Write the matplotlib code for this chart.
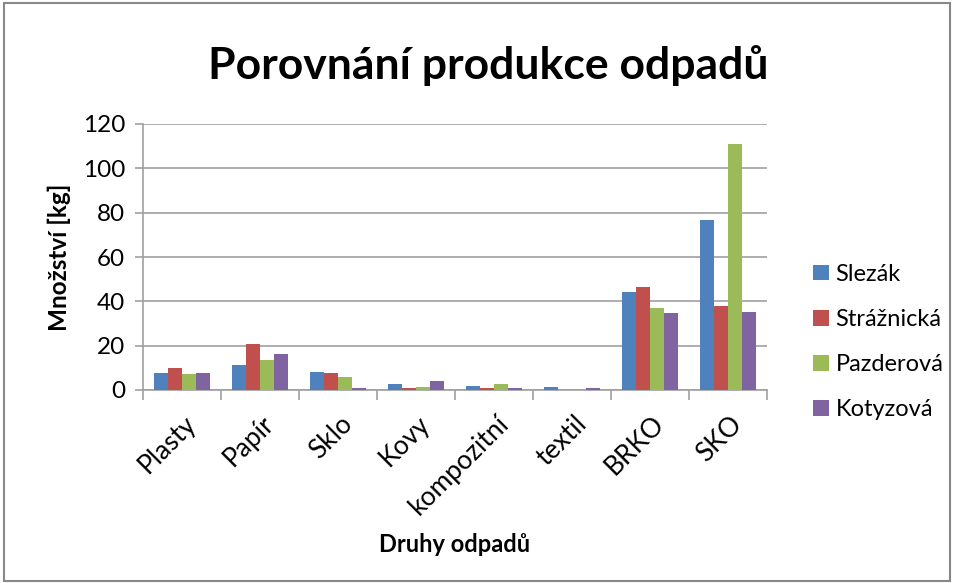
import matplotlib
matplotlib.use("Agg")
import matplotlib.pyplot as plt
import numpy as np
from matplotlib.patches import Rectangle

plt.rcParams['font.family'] = ['Lato', 'DejaVu Sans']

categories = ["Plasty", "Papír", "Sklo", "Kovy", "kompozitní", "textil", "BRKO", "SKO"]
series_names = ["Slezák", "Strážnická", "Pazderová", "Kotyzová"]
slezak = [7.7, 11.3, 8.3, 2.6, 2.0, 1.4, 44.0, 76.8]
straznicka = [10.1, 20.9, 7.7, 0.8, 0.8, 0.0, 46.4, 37.7]
pazderova = [7.2, 13.5, 6.0, 1.4, 2.6, 0.0, 36.9, 111.1]
kotyzova = [7.7, 16.4, 0.8, 4.2, 0.8, 0.8, 34.7, 35.3]
colors = ["#4F81BD", "#C0504D", "#9BBB59", "#8064A2"]
yticks = [0, 20, 40, 60, 80, 100, 120]

fig = plt.figure(figsize=(9.55, 5.83), dpi=100)
ax = fig.add_axes([143/955, 1-390/583, (767-143)/955, (390-124)/583])

x = np.arange(len(categories))
bw = 0.18
for i, (vals, name, c) in enumerate(zip([slezak, straznicka, pazderova, kotyzova], series_names, colors)):
    ax.bar(x + (i - 1.5) * bw, vals, width=bw, color=c, label=name, zorder=3)

ax.set_xlim(-0.5, len(categories) - 0.5)
ax.set_ylim(0, 120)
ax.set_yticks(yticks)
ax.yaxis.grid(True, color="#A0A0A0", linewidth=1.2, zorder=0)
for s in ["top", "right"]:
    ax.spines[s].set_visible(False)
for s in ["left", "bottom"]:
    ax.spines[s].set_color("#A0A0A0")
    ax.spines[s].set_linewidth(1.2)
ax.tick_params(axis="y", length=6, color="#A0A0A0", labelsize=17.5, pad=7, width=1.2)
ax.set_xticks(np.arange(len(categories) + 1) - 0.5)
ax.set_xticklabels([])
ax.tick_params(axis="x", length=7, color="#A0A0A0", width=1.2)
for xi, lab in zip(x, categories):
    ax.text(xi + 0.02, -9.5, lab, rotation=45, ha="right", va="top", fontsize=19,
            rotation_mode="anchor", transform=ax.transData, clip_on=False)

ax.set_ylabel("Množství [kg]", fontsize=17.5, fontweight="bold", labelpad=8)
fig.text(455/955, 1-545/583, "Druhy odpadů", ha="center", va="center", fontsize=17, fontweight="bold")
fig.text(488/955, 1-65/583, "Porovnání produkce odpadů", ha="center", va="center", fontsize=32, fontweight="bold")

leg = ax.legend(loc="center left", bbox_to_anchor=(792/955, 1-342/583), bbox_transform=fig.transFigure,
                frameon=False, fontsize=17, labelspacing=1.02, handlelength=0.65, handleheight=0.65,
                handletextpad=0.3)

fig.patches.append(Rectangle((4/955, 2/583), 946/955, 578/583, transform=fig.transFigure,
                             fill=False, edgecolor="#888888", linewidth=1.5))

fig.savefig("out.png", dpi=100)
